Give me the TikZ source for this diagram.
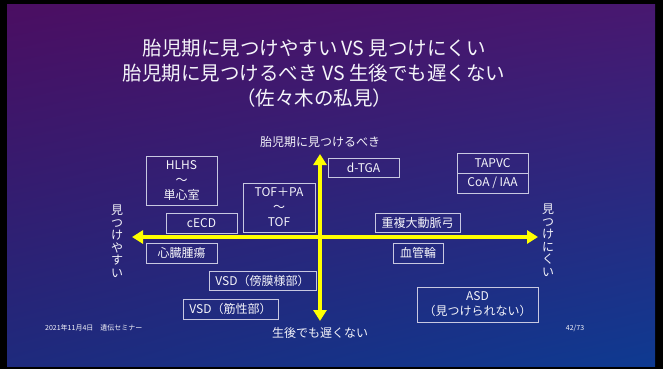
\documentclass[tikz,border=0pt]{standalone}
\usepackage{fontspec}
\setmainfont{Noto Sans CJK JP}
\usetikzlibrary{arrows.meta,shadings}
\definecolor{bgtl}{RGB}{75,14,98}
\definecolor{bgtr}{RGB}{72,24,112}
\definecolor{bgbl}{RGB}{30,42,125}
\definecolor{bgbr}{RGB}{14,58,145}
\definecolor{axisyellow}{RGB}{255,255,0}
\definecolor{boxline}{RGB}{200,200,225}
\definecolor{txt}{RGB}{245,245,250}
\tikzset{
  box/.style={draw=boxline, line width=0.8pt, text=txt, font=\fontsize{12}{15}\selectfont, align=center, inner sep=0pt},
  lbl/.style={text=txt, font=\fontsize{12}{14}\selectfont, inner sep=0pt},
  vlbl/.style={text=txt, font=\fontsize{12}{12.5}\selectfont, inner sep=0pt, align=center},
  titletext/.style={text=txt, font=\fontsize{19.5}{25}\selectfont, inner sep=0pt, align=center},
  foot/.style={text=txt, font=\fontsize{7}{8}\selectfont, inner sep=0pt},
  axisline/.style={draw=axisyellow, line width=4pt, {Triangle[length=11pt,width=13pt]}-{Triangle[length=11pt,width=13pt]}},
}
\begin{document}
\begin{tikzpicture}[x=1pt,y=-1pt]
\useasboundingbox (0,0) rectangle (663,369);
\fill[black] (0,0) rectangle (663,369);
\shade[upper left=bgtl, upper right=bgtr, lower left=bgbl, lower right=bgbr] (7,5) rectangle (655,366);

% title
\node[titletext] (title) at (314,73) {胎児期に見つけやすい VS 見つけにくい\\胎児期に見つけるべき VS 生後でも遅くない\\（佐々木の私見）};

% axes
\coordinate (vtop) at (320,154);
\coordinate (vbot) at (320,321);
\coordinate (hleft) at (132,237);
\coordinate (hright) at (538,237);
\draw[axisline] (hleft) -- (hright);
\draw[axisline] (vtop) -- (vbot);

% axis labels
\node[lbl] (ltop) at (320,142) {胎児期に見つけるべき};
\node[lbl] (lbot) at (320,333) {生後でも遅くない};
\node[vlbl] (lleft) at (117,241) {見\\つ\\け\\や\\す\\い};
\node[vlbl] (lright) at (548,240) {見\\つ\\け\\に\\く\\い};

% boxes
\node[box, minimum width=71pt, minimum height=49pt] (hlhs) at (181.5,180.5) {HLHS\\～\\単心室};
\node[box, minimum width=72pt, minimum height=49pt] (tof) at (279,207.5) {TOF＋PA\\～\\TOF};
\node[box, minimum width=71pt, minimum height=20pt] (cecd) at (201.5,223) {cECD};
\node[box, minimum width=71pt, minimum height=20pt] (tumor) at (181.5,253) {心臓腫瘍};
\node[box, minimum width=107pt, minimum height=19pt] (vsdpm) at (262.5,280.5) {VSD（傍膜様部）};
\node[box, minimum width=95pt, minimum height=20pt] (vsdm) at (230.5,309) {VSD（筋性部）};
\node[box, minimum width=71pt, minimum height=19pt] (dtga) at (363.5,167.5) {d-TGA};
\node[box, minimum width=71pt, minimum height=20pt] (tapvc) at (492.5,163) {TAPVC};
\node[box, minimum width=71pt, minimum height=20pt] (coa) at (492.5,183) {CoA / IAA};
\node[box, minimum width=85pt, minimum height=19pt] (arch) at (417.5,222.5) {重複大動脈弓};
\node[box, minimum width=50pt, minimum height=20pt] (ring) at (418,253) {血管輪};
\node[box, minimum width=121pt, minimum height=35pt] (asd) at (477.5,304.5) {ASD\\（見つけられない）};

% footer
\node[foot, anchor=west] (date) at (45,328) {2021年11月4日　遺伝セミナー};
\node[foot] (page) at (575,328) {42/73};
\end{tikzpicture}
\end{document}
